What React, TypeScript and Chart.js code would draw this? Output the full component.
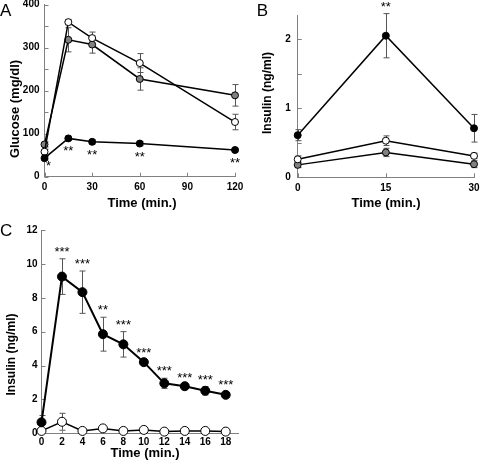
import React, { useEffect, useRef } from "react";
import { Chart, registerables } from "chart.js";
Chart.register(...registerables);

// ---------- Panel A: glucose ----------
const timeA = [0, 15, 30, 60, 120];
const glucoseWhite = [58, 359, 322, 264, 127];
const glucoseWhiteErr = [6, 6, 14, 22, 18];
const glucoseGray = [75, 318, 307, 227, 189];
const glucoseGrayErr = [6, 28, 20, 26, 25];
const glucoseBlack = [43, 89, 81, 77, 62];
const glucoseBlackErr = [4, 5, 5, 5, 4];
const starsA = ["*", "**", "**", "**", "**"];

// ---------- Panel B: insulin ----------
const timeB = [0, 15, 30];
const insulinBBlack = [0.61, 2.05, 0.71];
const insulinBBlackErr = [0.08, 0.32, 0.2];
const insulinBWhite = [0.26, 0.53, 0.31];
const insulinBWhiteErr = [0.05, 0.07, 0.04];
const insulinBGray = [0.18, 0.36, 0.19];
const insulinBGrayErr = [0.04, 0.06, 0.05];
const starsB = ["", "**", ""];

// ---------- Panel C: insulin ----------
const timeC = [0, 2, 4, 6, 8, 10, 12, 14, 16, 18];
const insulinCBlack = [0.65, 9.25, 8.33, 5.85, 5.25, 4.2, 2.95, 2.78, 2.51, 2.27];
const insulinCBlackErr = [0.4, 1.05, 1.25, 1.0, 0.75, 0.1, 0.3, 0.1, 0.25, 0.15];
const insulinCWhite = [0.14, 0.68, 0.14, 0.29, 0.14, 0.2, 0.1, 0.14, 0.14, 0.1];
const insulinCWhiteErr = [0.05, 0.5, 0.05, 0.15, 0.05, 0.05, 0.05, 0.05, 0.05, 0.05];
const starsC = ["", "***", "***", "**", "***", "***", "***", "***", "***", "***"];

const FONT = '"Liberation Sans", Arial, Helvetica, sans-serif';
const AXIS = "#808080";
const ERR = "#555555";

const pts = (xs: number[], ys: number[]) => xs.map((x, i) => ({ x, y: ys[i] }));

const errorBarPlugin = {
  id: "errorBars",
  beforeDatasetsDraw(chart: any) {
    const ctx = chart.ctx;
    const xs = chart.scales.x;
    const ys = chart.scales.y;
    chart.data.datasets.forEach((ds: any) => {
      const errs: number[] | undefined = ds.errors;
      if (!errs) return;
      ds.data.forEach((p: any, i: number) => {
        const e = errs[i];
        if (!e) return;
        const x = Math.round(xs.getPixelForValue(p.x)) + 0.5;
        const yt = ys.getPixelForValue(p.y + e);
        const yb = ys.getPixelForValue(p.y - e);
        ctx.save();
        ctx.strokeStyle = ERR;
        ctx.lineWidth = 1;
        ctx.beginPath();
        ctx.moveTo(x, yt);
        ctx.lineTo(x, yb);
        ctx.moveTo(x - 3, yt);
        ctx.lineTo(x + 3, yt);
        ctx.moveTo(x - 3, yb);
        ctx.lineTo(x + 3, yb);
        ctx.stroke();
        ctx.restore();
      });
    });
  },
};

const starPlugin = {
  id: "stars",
  afterDatasetsDraw(chart: any) {
    const ctx = chart.ctx;
    const xs = chart.scales.x;
    const ys = chart.scales.y;
    const area = chart.chartArea;
    chart.data.datasets.forEach((ds: any) => {
      const stars: string[] | undefined = ds.stars;
      if (!stars) return;
      const errs: number[] = ds.errors || [];
      ds.data.forEach((p: any, i: number) => {
        const s = stars[i];
        if (!s) return;
        let x = xs.getPixelForValue(p.x);
        const nearAxis = x - area.left < 6;
        if (nearAxis) x += 4;
        const e = errs[i] || 0;
        let y: number;
        if (ds.starMode === "below") {
          y = ys.getPixelForValue(p.y) + (nearAxis ? 12 : 17);
        } else {
          y = ys.getPixelForValue(p.y + e) - 3;
        }
        ctx.save();
        ctx.font = `13px ${FONT}`;
        ctx.fillStyle = "#000";
        ctx.textAlign = "center";
        ctx.textBaseline = "alphabetic";
        ctx.fillText(s, x, y);
        ctx.restore();
      });
    });
  },
};

const tickPlugin = {
  id: "innerTicks",
  beforeDatasetsDraw(chart: any) {
    const ctx = chart.ctx;
    const a = chart.chartArea;
    const xs = chart.scales.x;
    const ys = chart.scales.y;
    ctx.save();
    ctx.strokeStyle = AXIS;
    ctx.lineWidth = 1;
    ctx.beginPath();
    xs.ticks.forEach((_t: any, i: number) => {
      const x = Math.round(xs.getPixelForTick(i)) + 0.5;
      ctx.moveTo(x, a.bottom);
      ctx.lineTo(x, a.bottom - 4);
    });
    ys.ticks.forEach((_t: any, i: number) => {
      const y = Math.round(ys.getPixelForTick(i)) + 0.5;
      ctx.moveTo(a.left, y);
      ctx.lineTo(a.left + 4, y);
    });
    ctx.stroke();
    ctx.restore();
  },
};

const textPlugin = {
  id: "texts",
  afterDraw(chart: any, _args: any, opts: any) {
    const ctx = chart.ctx;
    (opts.items || []).forEach((t: any) => {
      ctx.save();
      ctx.font = t.font;
      ctx.fillStyle = "#000";
      ctx.textAlign = t.align || "center";
      ctx.textBaseline = t.baseline || "middle";
      ctx.translate(t.x, t.y);
      if (t.rot) ctx.rotate(t.rot);
      ctx.fillText(t.text, 0, 0);
      ctx.restore();
    });
  },
};

type Spec = {
  datasets: any[];
  x: { max: number; step: number; pad: number };
  y: { max: number; step: number; labelEvery: number; pad: number };
  padding: { left: number; top: number; right: number; bottom: number };
  yWidth: number;
  xHeight: number;
  texts: any[];
};

const TITLE_FONT = `bold 13px ${FONT}`;
const TITLE_FONT_S = `bold 12px ${FONT}`;
const LETTER_FONT = `17px ${FONT}`;

function makeConfig(spec: Spec): any {
  const tickFont = { family: FONT, size: 10, weight: "bold" as const };
  return {
    type: "scatter",
    data: { datasets: spec.datasets },
    plugins: [errorBarPlugin, starPlugin, tickPlugin, textPlugin],
    options: {
      responsive: false,
      animation: false,
      devicePixelRatio: 1,
      layout: { padding: spec.padding },
      plugins: {
        legend: { display: false },
        tooltip: { enabled: false },
        texts: { items: spec.texts },
      },
      scales: {
        x: {
          type: "linear",
          min: 0,
          max: spec.x.max,
          grid: { display: true, drawOnChartArea: false, drawTicks: false },
          border: { display: true, color: AXIS, width: 1 },
          ticks: {
            stepSize: spec.x.step,
            includeBounds: false,
            autoSkip: false,
            maxRotation: 0,
            padding: spec.x.pad,
            color: "#000",
            font: tickFont,
          },
          afterFit: (s: any) => {
            s.height = spec.xHeight;
            s.paddingLeft = 0;
            s.paddingRight = 0;
          },
        },
        y: {
          type: "linear",
          min: 0,
          max: spec.y.max,
          grid: { display: true, drawOnChartArea: false, drawTicks: false },
          border: { display: true, color: AXIS, width: 1 },
          ticks: {
            stepSize: spec.y.step,
            includeBounds: false,
            autoSkip: false,
            padding: spec.y.pad,
            color: "#000",
            font: tickFont,
            callback: (v: any) => {
              const n = Number(v);
              const r = n / spec.y.labelEvery;
              return Math.abs(r - Math.round(r)) < 1e-6 ? String(Math.round(n * 100) / 100) : "";
            },
          },
          afterFit: (s: any) => {
            s.width = spec.yWidth;
            s.paddingTop = 0;
            s.paddingBottom = 0;
          },
        },
      },
    },
  };
}

function series(xs: number[], ys: number[], errs: number[], fill: string, radius: number, lineWidth: number, extra: any = {}) {
  return {
    data: pts(xs, ys),
    errors: errs,
    showLine: true,
    clip: false,
    borderColor: "#000",
    borderWidth: lineWidth,
    pointBackgroundColor: fill,
    pointBorderColor: "#000",
    pointBorderWidth: 1,
    pointRadius: radius,
    pointHoverRadius: radius,
    ...extra,
  };
}

const specA: Spec = {
  datasets: [
    series(timeA, glucoseBlack, glucoseBlackErr, "#000", 3.5, 1.5, { stars: starsA, starMode: "below" }),
    series(timeA, glucoseWhite, glucoseWhiteErr, "#fff", 3.5, 1.5),
    series(timeA, glucoseGray, glucoseGrayErr, "#808080", 3.5, 1.5),
  ],
  x: { max: 120, step: 30, pad: 5 },
  y: { max: 400, step: 50, labelEvery: 100, pad: 5 },
  padding: { left: 0, top: 4, right: 15, bottom: 0 },
  yWidth: 44.5,
  xHeight: 38.3,
  texts: [
    { text: "A", x: 0, y: 3, font: LETTER_FONT, align: "left", baseline: "top" },
    { text: "Glucose (mg/dl)", x: 15, y: 109, rot: -Math.PI / 2, font: TITLE_FONT },
    { text: "Time (min.)", x: 142, y: 203, font: TITLE_FONT },
  ],
};

const specB: Spec = {
  datasets: [
    series(timeB, insulinBBlack, insulinBBlackErr, "#000", 3.5, 1.5, { stars: starsB, starMode: "above" }),
    series(timeB, insulinBWhite, insulinBWhiteErr, "#fff", 3.5, 1.5),
    series(timeB, insulinBGray, insulinBGrayErr, "#808080", 3.5, 1.5),
  ],
  x: { max: 30, step: 15, pad: 5 },
  y: { max: 2.35, step: 0.5, labelEvery: 1, pad: 7 },
  padding: { left: 0, top: 15, right: 6, bottom: 0 },
  yWidth: 57.7,
  xHeight: 37.7,
  texts: [
    { text: "B", x: 16.7, y: 3, font: LETTER_FONT, align: "left", baseline: "top" },
    { text: "Insulin (ng/ml)", x: 27.5, y: 93, rot: -Math.PI / 2, font: TITLE_FONT_S },
    { text: "Time (min.)", x: 146, y: 203, font: TITLE_FONT },
  ],
};

const specC: Spec = {
  datasets: [
    series(timeC, insulinCBlack, insulinCBlackErr, "#000", 4.5, 2, { stars: starsC, starMode: "above" }),
    series(timeC, insulinCWhite, insulinCWhiteErr, "#fff", 4.5, 1.5),
  ],
  x: { max: 19.2, step: 2, pad: 3 },
  y: { max: 12, step: 2, labelEvery: 2, pad: 4 },
  padding: { left: 0, top: 15, right: 12, bottom: 0 },
  yWidth: 41.5,
  xHeight: 34.7,
  texts: [
    { text: "C", x: 0, y: 8, font: LETTER_FONT, align: "left", baseline: "top" },
    { text: "Insulin (ng/ml)", x: 12, y: 139.5, rot: -Math.PI / 2, font: TITLE_FONT_S },
    { text: "Time (min.)", x: 145, y: 238, font: TITLE_FONT },
  ],
};

function Panel({ spec, left, top, width, height }: { spec: Spec; left: number; top: number; width: number; height: number }) {
  const ref = useRef<HTMLCanvasElement | null>(null);
  useEffect(() => {
    if (!ref.current) return;
    const chart = new Chart(ref.current, makeConfig(spec));
    return () => chart.destroy();
  }, [spec]);
  return (
    <canvas
      ref={ref}
      width={width}
      height={height}
      style={{ position: "absolute", left, top, width, height }}
    />
  );
}

export default function App() {
  return (
    <div style={{ position: "absolute", left: 0, top: 0, width: 480, height: 468, background: "#fff", overflow: "hidden" }}>
      <Panel spec={specA} left={0} top={0} width={250} height={215} />
      <Panel spec={specB} left={240} top={0} width={240} height={215} />
      <Panel spec={specC} left={0} top={215} width={250} height={253} />
    </div>
  );
}
